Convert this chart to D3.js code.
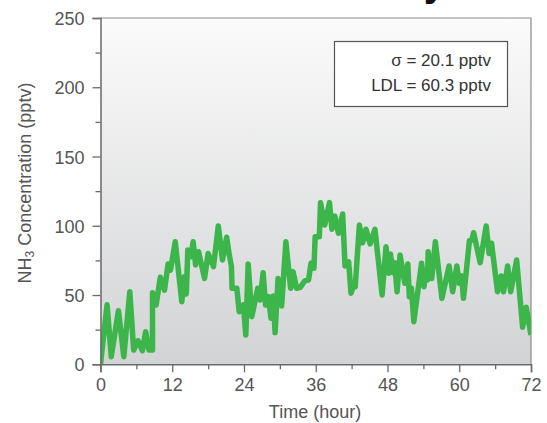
<!DOCTYPE html>
<html><head><meta charset="utf-8">
<script src="https://cdn.jsdelivr.net/npm/d3@7"></script>
<style>body{margin:0;background:#fff}svg{display:block}</style>
</head><body>
<svg id="c" width="547" height="423"></svg>
<script>
const hours = [0,1.1,1.8,3.0,3.9,4.9,5.55,6.27,7.0,7.55,8.1,8.7,8.7,9.3,10.0,10.7,11.3,11.7,12.5,13.6,14.0,14.35,14.6,15.1,15.5,15.9,16.4,17.4,18.0,18.9,19.7,20.4,21.1,21.5,21.9,22.0,22.8,23.2,23.9,24.3,24.7,25.3,26.3,26.7,27.2,27.6,28.1,28.5,28.9,29.2,29.7,30.3,31.0,31.8,32.2,32.8,33.4,34.2,34.8,35.2,35.6,35.7,35.9,36.6,36.8,37.5,38.3,38.7,39.2,39.8,40.5,40.9,41.5,41.9,42.3,42.6,43.3,43.85,44.4,45.1,45.9,47.1,47.75,48.2,48.5,48.9,49.2,49.6,50.1,50.9,51.4,51.65,52.0,52.4,53.7,54.1,54.4,54.7,54.8,55.4,56.0,57.1,58.3,58.9,59.6,60.0,60.4,60.7,61.1,61.7,62.1,62.4,63.5,64.5,65.0,65.4,66.4,67.0,67.4,68.1,68.6,69.6,70.6,71.2,72];
const nh3 = [0,43,5.5,38.7,5.5,52.4,10.3,17,9.8,23.5,10.3,10.3,51.7,42.8,62.8,53.6,72.4,68,88.5,45.2,63.2,50.8,82.5,77.7,88.5,71.7,81.3,62,80,70.5,99.9,75.3,91.7,80,70.5,54.9,54.9,38,42.8,21.2,72.4,34.4,54.9,46.4,66.1,42.8,48.8,33.2,49.3,22.8,62,42.1,88.5,54.9,66.9,54.9,55.6,60.4,60.9,72.9,71.7,69.3,92.1,92.1,116.7,100.6,116.7,97.5,107,94.6,108.5,71,74,51.3,56.5,56,100.6,87.8,97.5,86.9,97.5,50,84.9,65.7,79.6,66.1,73.4,52.4,78.9,58.5,72.4,48.8,54.9,30.8,73,56,68.1,60.9,81.3,62,88.5,47.6,71,52.4,71,58.5,63.8,47.6,63.8,89.2,89.7,95,73.4,99.9,80,87.4,52.4,63.8,52.4,71,52.4,75.3,26.7,41.2,21.2];
const xTicks = [0,12,24,36,48,60,72];
const xMinor = [6,18,30,42,54,66];
const yTicks = [0,50,100,150,200,250];
const yMinor = [25,75,125,175,225];
const legendLines = ["σ = 20.1 pptv","LDL = 60.3 pptv"];

const svg = d3.select("#c");
const L=100.5, R=531, T=18, B=364.3;
const x = d3.scaleLinear().domain([0,72]).range([L,R]);
const y = d3.scaleLinear().domain([0,250]).range([B,T]);
const font = "'Liberation Sans', Arial, sans-serif";

const defs = svg.append("defs");
const g = defs.append("linearGradient").attr("id","bg").attr("x1",0).attr("y1",0).attr("x2",0).attr("y2",1);
g.append("stop").attr("offset","0%").attr("stop-color","#fbfbfb");
g.append("stop").attr("offset","100%").attr("stop-color","#d2d3d5");
defs.append("clipPath").attr("id","clip").append("rect").attr("x",L).attr("y",T).attr("width",R-L).attr("height",B-T);

// title cut off by the top edge: only the descender of the final "y" shows
svg.append("text").attr("x",446).attr("y",-4.5).attr("text-anchor","end")
  .attr("font-family",font).attr("font-weight","bold").attr("font-size",40).attr("fill","#111").text("Stability");

svg.append("rect").attr("x",L).attr("y",T).attr("width",R-L).attr("height",B-T).attr("fill","url(#bg)");
svg.append("path").attr("d",`M${L},${T}H${R}V${B}`).attr("fill","none").attr("stroke","#8a8a8a").attr("stroke-width",1.2);

const line = d3.line().x((d,i)=>x(hours[i])).y(d=>y(d));
svg.append("path").datum(nh3).attr("clip-path","url(#clip)").attr("d",line)
  .attr("fill","none").attr("stroke","#3cb54a").attr("stroke-width",5.5).attr("stroke-linejoin","round").attr("stroke-linecap","butt");

svg.append("rect").attr("x",334.5).attr("y",41.5).attr("width",173).attr("height",65).attr("fill","#fff").attr("stroke","#555").attr("stroke-width",1.2);
legendLines.forEach((t,i)=>{
  svg.append("text").attr("x",491).attr("y",66+i*24.5).attr("text-anchor","end")
    .attr("font-family",font).attr("font-size",17).attr("fill","#333").text(t);
});

const axCol="#6a6a6a";
svg.append("g").attr("transform",`translate(0,${B})`)
  .call(d3.axisBottom(x).tickValues(xTicks).tickSize(8).tickPadding(6).tickFormat(d3.format("d")));
svg.append("g").attr("transform",`translate(0,${B})`)
  .call(d3.axisBottom(x).tickValues(xMinor).tickSize(5).tickFormat(""))
  .call(s=>s.select(".domain").remove());
const ya = svg.append("g").attr("transform",`translate(${L},0)`)
  .call(d3.axisLeft(y).tickValues(yTicks).tickSize(8).tickPadding(8).tickFormat(d3.format("d")));
svg.append("g").attr("transform",`translate(${L},0)`)
  .call(d3.axisLeft(y).tickValues(yMinor).tickSize(5).tickFormat(""))
  .call(s=>s.select(".domain").remove());
svg.selectAll(".domain").attr("stroke",axCol).attr("stroke-width",1.5);
svg.selectAll(".tick line").attr("stroke",axCol).attr("stroke-width",1.3);
svg.selectAll(".tick text").attr("font-family",font).attr("font-size",18).attr("fill","#555");
ya.selectAll(".tick text").attr("dy","0.36em");

svg.append("text").attr("x",315).attr("y",418).attr("text-anchor","middle")
  .attr("font-family",font).attr("font-size",18).attr("fill","#555").text("Time (hour)");
const yt = svg.append("text").attr("transform","translate(31,183) rotate(-90)").attr("text-anchor","middle")
  .attr("font-family",font).attr("font-size",18).attr("fill","#555");
yt.append("tspan").text("NH");
yt.append("tspan").attr("font-size",12).attr("dy",3).text("3");
yt.append("tspan").attr("dy",-3).text(" Concentration (pptv)");
</script>
</body></html>
